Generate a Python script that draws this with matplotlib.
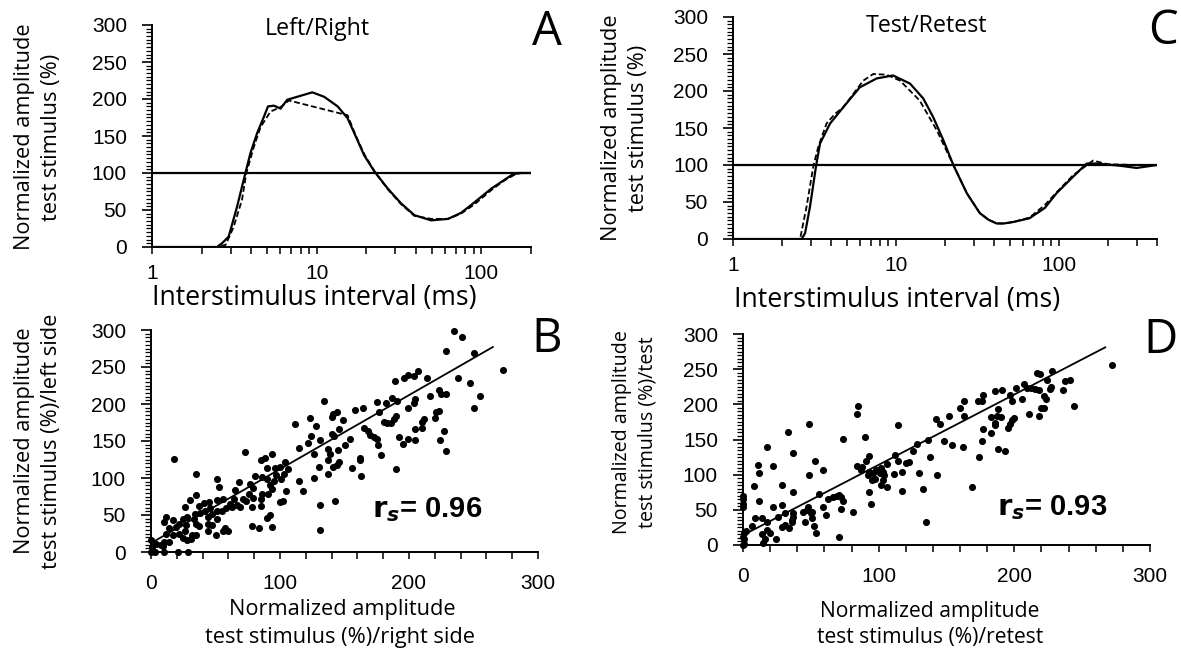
import numpy as np
import matplotlib
matplotlib.use("Agg")
import matplotlib.pyplot as plt
from matplotlib.ticker import MultipleLocator, LogLocator, NullFormatter, FixedLocator, FixedFormatter

# ---------------- data ----------------
# Panel A (Left/Right) : interstimulus interval (ms) vs normalized amplitude (%)
a_solid_isi = [1, 2.48, 2.66, 2.92, 3.28, 3.69, 3.96, 4.35, 4.78, 5.06, 5.5, 6.03, 6.62, 7.62, 9.4,
               11.1, 13.4, 15.4, 17.3, 19.4, 22.4, 27, 32.5, 39.2, 49.5, 62.7, 75, 86.9, 115, 152, 167, 200]
a_solid_amp = [0, 0, 5, 14, 54, 100, 127, 154, 176, 190, 191, 187, 199, 203, 209,
               203, 190, 174, 149, 124, 102, 79, 59, 43, 36, 38, 46, 57, 79, 97, 100, 100]
a_dash_isi = [1, 2.5, 2.8, 3.13, 3.52, 3.74, 4.15, 4.56, 5.24, 6.03, 6.78, 15.4, 17.3, 19.6, 22.8,
              27, 32.5, 39.2, 49.5, 62.7, 75, 90, 115, 138, 160, 175, 200]
a_dash_amp = [0, 0, 3, 27, 64, 100, 135, 162, 183, 189, 198, 178, 150, 124, 100,
              78, 58, 42, 38, 38, 45, 57, 77, 90, 98, 100, 100]

# Panel C (Test/Retest)
c_solid_isi = [1, 2.64, 2.77, 2.97, 3.23, 3.42, 3.94, 4.75, 6.0, 7.62, 9.6, 12.2, 14.7, 16.9, 19.5,
               22.5, 27.2, 32.7, 37, 41.5, 46, 52.5, 66, 82, 96.8, 122, 148, 170, 237, 300, 400]
c_solid_amp = [0, 0, 8, 44, 98, 129, 156, 178, 205, 217, 221, 210, 190, 165, 134,
               100, 62, 35, 26, 21, 21, 23, 28, 42, 62, 84, 102, 102, 99, 96, 100]
c_dash_isi = [1, 2.58, 2.83, 3.11, 3.34, 3.75, 4.22, 4.75, 6.3, 7.26, 8.77, 10.6, 14, 17.8,
              22.5, 27.2, 32.7, 37, 41.5, 46, 52.5, 66, 82, 96.8, 122, 162, 200, 300, 400]
c_dash_amp = [0, 0, 44, 98, 125, 156, 169, 178, 214, 223, 222, 214, 187, 147,
              100, 62, 35, 26, 21, 21, 23, 29, 46, 63, 86, 106, 101, 100, 100]

# Panel B: right side (x) vs left side (y)
b_right = [134, 141, 144, 140, 123, 112, 128, 149, 146, 124, 131, 140, 142, 115, 122, 126, 137, 139, 145, 150,
           73, 18, 85, 88, 94, 137, 146, 144, 141, 104, 90, 96, 100, 106, 103, 97, 101, 35, 51, 53,
           68, 77, 81, 86, 90, 95, 115, 118, 126, 130, 137, 79, 65, 76, 86, 92, 94, 91, 105, 35,
           30, 26, 37, 41, 45, 51, 56, 64, 71, 79, 74, 69, 63, 58, 55, 61, 67, 78, 85, 85,
           100, 102, 131, 143, 42, 46, 47, 51, 44, 38, 34, 33, 28, 25, 12, 17, 10, 22, 27, 35,
           37, 44, 51, 47, 57, 44, 50, 56, 60, 14, 12, 17, 22, 26, 25, 28, 32, 35, 31, 78,
           84, 92, 90, 94, 131, 0, 4, 8, 10, 14, 9, 1, 3, 10, 21, 29, 0, 19,
           235, 241, 229, 250, 273, 189, 196, 199, 204, 207, 214, 238, 247, 216, 223, 225, 229, 255, 250, 175,
           182, 187, 191, 205, 204, 199, 158, 164, 177, 181, 183, 186, 188, 190, 221, 220, 223, 212, 210, 205,
           210, 165, 168, 170, 173, 175, 176, 192, 195, 199, 205, 227, 224, 229, 154, 178, 162, 162, 156, 163, 190]
b_left = [204, 186, 189, 183, 181, 173, 170, 178, 166, 157, 152, 159, 157, 141, 147, 133, 139, 133, 138, 144,
          135, 126, 125, 127, 132, 124, 122, 117, 115, 122, 114, 113, 115, 112, 106, 104, 99, 105, 98, 88,
          95, 92, 103, 101, 99, 96, 96, 83, 100, 115, 106, 87, 84, 79, 78, 90, 85, 79, 83, 77,
          70, 61, 62, 66, 67, 70, 71, 71, 71, 73, 69, 61, 61, 59, 56, 65, 63, 61, 62, 72,
          67, 69, 64, 69, 56, 60, 52, 56, 47, 53, 51, 45, 47, 45, 47, 43, 41, 38, 36, 38,
          35, 38, 45, 36, 32, 28, 23, 29, 28, 32, 25, 23, 25, 29, 19, 16, 23, 23, 18, 35,
          33, 50, 46, 34, 30, 16, 11, 9, 14, 14, 8, 7, 0, 0, 0, 0, 0, 34,
          298, 291, 272, 269, 246, 231, 235, 239, 238, 244, 235, 235, 229, 211, 219, 214, 214, 211, 194, 203,
          201, 208, 204, 207, 202, 194, 192, 195, 189, 176, 175, 174, 180, 184, 189, 181, 190, 180, 176, 166,
          167, 167, 163, 158, 156, 153, 145, 156, 146, 153, 151, 164, 151, 137, 153, 131, 127, 124, 113, 103, 112]

# Panel D: retest (x) vs test (y)
d_retest = [85, 84, 49, 33, 114, 142, 145, 18, 74, 90, 136, 148, 37, 11, 22, 53, 12, 49, 59, 93,
            91, 112, 114, 128, 125, 120, 122, 84, 88, 87, 93, 92, 96, 98, 102, 106, 103, 101, 104, 95,
            97, 103, 102, 106, 111, 117, 130, 138, 143, 8, 29, 37, 56, 12, 0, 0, 0, 93, 94, 117,
            133, 63, 66, 69, 71, 72, 74, 72, 81, 59, 61, 22, 29, 26, 31, 37, 37, 36, 44, 47,
            48, 50, 51, 51, 9, 14, 7, 18, 29, 31, 34, 36, 46, 52, 54, 1, 1, 1, 14, 18,
            16, 15, 20, 24, 71, 135, 0, 0, 2, 0,
            272, 217, 219, 228, 224, 237, 241, 236, 201, 207, 209, 212, 215, 218, 227, 226, 186, 191, 177, 173,
            176, 197, 206, 222, 223, 198, 163, 160, 152, 163, 188, 183, 187, 190, 200, 198, 197, 195, 186, 186,
            211, 218, 220, 222, 244, 177, 183, 176, 154, 162, 188, 193, 174, 169]
d_test = [197, 186, 172, 160, 170, 179, 172, 140, 151, 154, 150, 148, 131, 114, 112, 120, 102, 99, 106, 127,
          120, 128, 120, 143, 134, 117, 118, 112, 111, 106, 104, 99, 102, 106, 109, 115, 104, 102, 99, 92,
          94, 92, 85, 82, 101, 104, 102, 125, 99, 84, 85, 75, 73, 62, 66, 59, 54, 75, 58, 77,
          80, 65, 68, 69, 71, 68, 62, 51, 47, 54, 42, 54, 57, 40, 45, 46, 40, 35, 47, 50,
          54, 45, 47, 39, 38, 39, 27, 33, 26, 28, 24, 32, 32, 27, 17, 17, 9, 2, 16, 21,
          9, 3, 17, 9, 12, 32, 0, 12, 20, 70,
          256, 244, 243, 247, 235, 233, 235, 221, 223, 229, 223, 223, 222, 220, 225, 222, 219, 221, 213, 205,
          205, 213, 207, 212, 208, 205, 205, 195, 183, 183, 194, 182, 183, 182, 181, 178, 172, 167, 170, 173,
          186, 184, 195, 195, 197, 165, 159, 148, 142, 140, 136, 134, 125, 82]

# regression lines (intercept, slope, end of drawn range)
b_fit = (12, 1.0, 265)
d_fit = (14, 1.0, 267)
b_rs = "0.96"
d_rs = "0.93"

# ---------------- layout ----------------
W, H = 1181, 657
fig = plt.figure(figsize=(W / 100, H / 100), dpi=100)
TICKFONT = "Liberation Sans"
LABFONT = "Open Sans"


def add_ax(left, right, top, bottom):
    return fig.add_axes([left / W, 1 - bottom / H, (right - left) / W, (bottom - top) / H])


def style(ax, xpad):
    for s in ("top", "right"):
        ax.spines[s].set_visible(False)
    for s in ("left", "bottom"):
        ax.spines[s].set_linewidth(1.4)
        ax.spines[s].set_color("black")
    ax.tick_params(which="major", direction="out", length=7, width=1.2, labelsize=15)
    ax.tick_params(which="minor", direction="out", length=4, width=0.9)
    ax.tick_params(axis="y", which="major", pad=11)
    ax.tick_params(axis="x", which="both", length=5, width=1.1)
    ax.tick_params(axis="x", which="major", pad=xpad)
    for lab in ax.get_xticklabels() + ax.get_yticklabels():
        lab.set_fontfamily(TICKFONT)
    ax.set_facecolor("none")


def ylin(ax):
    ax.set_ylim(0, 300)
    ax.yaxis.set_major_locator(MultipleLocator(50))
    ax.yaxis.set_minor_locator(MultipleLocator(5))


def curve_axes(ax, xmax, sx, sy, dx, dy):
    ax.set_xscale("log")
    ax.set_xlim(1, xmax)
    ylin(ax)
    ax.xaxis.set_major_locator(FixedLocator([1, 10, 100]))
    ax.xaxis.set_major_formatter(FixedFormatter(["1", "10", "100"]))
    ax.xaxis.set_minor_locator(LogLocator(base=10, subs=np.arange(2, 10), numticks=20))
    ax.xaxis.set_minor_formatter(NullFormatter())
    ax.axhline(100, color="black", lw=1.6, zorder=1)
    ax.plot(dx, dy, color="black", lw=1.3, ls=(0, (3.2, 1.6)), zorder=2)
    ax.plot(sx, sy, color="black", lw=1.6, zorder=3)
    style(ax, 7)


def scatter_axes(ax, x, y, fit):
    ax.set_xlim(0, 300)
    ylin(ax)
    ax.xaxis.set_major_locator(MultipleLocator(100))
    ax.xaxis.set_minor_locator(MultipleLocator(20))
    ax.scatter(x, y, s=26, color="black", linewidths=0, zorder=3, clip_on=False)
    xs = np.array([0, fit[2]])
    ax.plot(xs, fit[0] + fit[1] * xs, color="black", lw=1.3, zorder=2)
    style(ax, 11)


axA = add_ax(152, 531, 25, 247)
axC = add_ax(733, 1157, 17, 239)
axB = add_ax(151, 538, 330, 552)
axD = add_ax(743, 1150, 334, 545)

curve_axes(axA, 200, a_solid_isi, a_solid_amp, a_dash_isi, a_dash_amp)
curve_axes(axC, 400, c_solid_isi, c_solid_amp, c_dash_isi, c_dash_amp)
scatter_axes(axB, b_right, b_left, b_fit)
scatter_axes(axD, d_retest, d_test, d_fit)

fig.canvas.draw()
renderer = fig.canvas.get_renderer()


def fit_text(x, y, s, length, rotation=0, family=LABFONT, weight="normal", size=None):
    t = fig.text(x / W, 1 - y / H, s, ha="center", va="center", rotation=rotation,
                 fontsize=12, family=family, weight=weight, rotation_mode="anchor")
    if size is None:
        bb = t.get_window_extent(renderer=renderer)
        L = bb.height if rotation == 90 else bb.width
        size = 12 * length / L
    t.set_fontsize(size)
    return size


# x labels
fit_text(314, 298, "Interstimulus interval (ms)", 324)
fit_text(897, 300, "Interstimulus interval (ms)", 325)
s = fit_text(342, 610, "Normalized amplitude", 225)
fit_text(340, 637, "test stimulus (%)/right side", 0, size=s)
s2 = fit_text(930, 612, "Normalized amplitude", 218)
fit_text(930, 637, "test stimulus (%)/retest", 0, size=s2)

# y labels
fit_text(25, 137, "Normalized amplitude", 0, rotation=90, size=s)
fit_text(52, 137, "test stimulus (%)", 0, rotation=90, size=s)
fit_text(25, 441, "Normalized amplitude", 0, rotation=90, size=s)
fit_text(52, 441, "test stimulus (%)/left side", 0, rotation=90, size=s)
fit_text(611, 128, "Normalized amplitude", 0, rotation=90, size=s)
fit_text(638, 128, "test stimulus (%)", 0, rotation=90, size=s)
fit_text(622, 432, "Normalized amplitude", 0, rotation=90, size=s * 0.9)
fit_text(648, 432, "test stimulus (%)/test", 0, rotation=90, size=s * 0.9)

# titles
fit_text(317, 29, "Left/Right", 105)
fit_text(927, 26, "Test/Retest", 121)

# panel letters
for (x, y, L) in [(547, 32, "A"), (547, 339, "B"), (1163, 31, "C"), (1160, 340, "D")]:
    fig.text(x / W, 1 - y / H, L, ha="center", va="center", fontsize=34, family=LABFONT)

# r_s annotations
for (x, y, v) in [(427, 510, b_rs), (1052, 508, d_rs)]:
    fig.text(x / W, 1 - y / H, r"$\mathbf{r}_{\boldsymbol{s}}$" + "= " + v, ha="center", va="center",
             fontsize=21, family=TICKFONT, weight="bold")

fig.savefig("out.png", dpi=100)
